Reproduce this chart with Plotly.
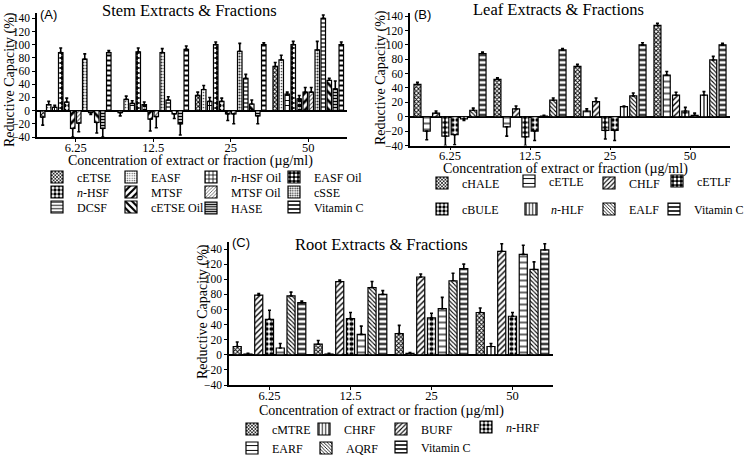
import plotly.graph_objects as go

W, H = 745, 457
concentrations = ["6.25", "12.5", "25", "50"]

# ---------------- Panel A : Stem ----------------
stem_names = ["cETSE", "EASF", "<i>n</i>-HSF Oil", "EASF Oil",
              "<i>n</i>-HSF", "MTSF", "MTSF Oil", "cSSE",
              "DCSF", "cETSE Oil", "HASE", "Vitamin C"]
stem_cETSE = [-10, -3, 23, 67]
stem_EASF = [9, 17, 32, 77]
stem_nHSF_oil = [5, 11, 14, 25]
stem_EASF_oil = [88, 89, 100, 100]
stem_nHSF = [13, 9, 14, 18]
stem_MTSF = [-27, -13, -5, 28]
stem_MTSF_oil = [-19, -9, -5, 28]
stem_cSSE = [78, 88, 90, 92]
stem_DCSF = [-3, 16, 49, 140]
stem_cETSE_oil = [-18, -5, 10, 46]
stem_HASE = [-27, -20, -8, 33]
stem_vitC = [88, 93, 100, 100]
stem_values = [stem_cETSE, stem_EASF, stem_nHSF_oil, stem_EASF_oil, stem_nHSF,
               stem_MTSF, stem_MTSF_oil, stem_cSSE, stem_DCSF, stem_cETSE_oil,
               stem_HASE, stem_vitC]
stem_err = [[12, 5, 5, 6], [5, 5, 6, 7], [3, 4, 6, 3], [7, 6, 4, 5],
            [6, 4, 5, 5], [13, 18, 10, 7], [13, 17, 15, 7], [8, 6, 12, 13],
            [3, 5, 6, 5], [16, 7, 6, 3], [13, 17, 12, 12], [3, 5, 3, 4]]

# ---------------- Panel B : Leaf ----------------
leaf_names = ["cHALE", "cETLE", "CHLF", "cETLF",
              "cBULE", "<i>n</i>-HLF", "EALF", "Vitamin C"]
leaf_cHALE = [45, 52, 70, 127]
leaf_cETLE = [-20, -14, 8, 58]
leaf_CHLF = [5, 11, 21, 30]
leaf_cETLF = [-27, -28, -19, 8]
leaf_cBULE = [-25, -20, -19, 2]
leaf_nHLF = [-3, 1, 14, 30]
leaf_EALF = [9, 23, 29, 79]
leaf_vitC = [88, 93, 100, 100]
leaf_values = [leaf_cHALE, leaf_cETLE, leaf_CHLF, leaf_cETLF,
               leaf_cBULE, leaf_nHLF, leaf_EALF, leaf_vitC]
leaf_err = [[3, 2, 3, 3], [12, 13, 3, 5], [3, 4, 5, 4], [13, 12, 12, 5],
            [14, 13, 14, 3], [2, 1, 1, 5], [3, 3, 4, 5], [2, 2, 3, 2]]

# ---------------- Panel C : Root ----------------
root_names = ["cMTRE", "CHRF", "BURF", "<i>n</i>-HRF",
              "EARF", "AQRF", "Vitamin C"]
root_cMTRE = [11, 14, 28, 56]
root_CHRF = [1, 1, 2, 11]
root_BURF = [79, 97, 103, 137]
root_nHRF = [47, 48, 49, 51]
root_EARF = [9, 27, 61, 133]
root_AQRF = [78, 89, 98, 113]
root_vitC = [69, 80, 114, 139]
root_values = [root_cMTRE, root_CHRF, root_BURF, root_nHRF,
               root_EARF, root_AQRF, root_vitC]
root_err = [[6, 5, 11, 6], [1, 1, 1, 4], [2, 2, 4, 10], [12, 8, 6, 5],
            [6, 11, 15, 12], [5, 8, 10, 10], [2, 5, 6, 8]]

# ---------------- styles ----------------
def pat(shape, size, solidity, fg="black", bg="white"):
    return dict(shape=shape, size=size, solidity=solidity, fgcolor=fg, bgcolor=bg, fillmode="replace")

XHATCH = pat("x", 3, 0.5)
VITC = pat("-", 5, 0.4)
stem_pat = [XHATCH, pat(".", 3, 0.25, "#555"), pat("+", 5, 0.35), pat(".", 5, 0.45, "white", "black"),
            pat(".", 5, 0.55), pat("/", 6, 0.45), pat("/", 3, 0.3, "#444"), pat(".", 3, 0.4, "#333"),
            pat("-", 4, 0.3), pat("\\", 6, 0.45), pat("-", 3, 0.5), VITC]
leaf_pat = [XHATCH, pat("-", 6, 0.2), pat("/", 4, 0.35), pat(".", 5, 0.45, "white", "black"),
            pat(".", 5, 0.55), pat("|", 4, 0.3), pat("\\", 3, 0.35), VITC]
root_pat = [XHATCH, pat("|", 4, 0.3), pat("/", 4, 0.35), pat(".", 5, 0.55),
            pat("-", 6, 0.2), pat("\\", 3, 0.35), VITC]

# legend entry positions (swatch left x, row centre y) in pixels
stem_leg_pos = [(53, 177), (127, 177), (207, 177), (290, 177),
                (53, 192), (127, 192), (207, 192), (290, 192),
                (53, 207), (127, 207), (207, 208), (290, 207)]
leaf_leg_pos = [(438, 183), (525, 181), (605, 183), (673, 181),
                (438, 209), (527, 209), (605, 209), (670, 209)]
root_leg_pos = [(248, 429), (320, 429), (397, 429), (482, 427),
                (248, 448), (322, 448), (397, 447)]

SERIF = "Liberation Serif"
SANS = "Liberation Sans"

def px_x(p):
    return p / W

def px_y(p):
    return 1 - p / H

fig = go.Figure()
legends = {}
counter = [0]

def add_panel(names, values, errs, pats, positions, xa, ya):
    for n, v, e, p, pos in zip(names, values, errs, pats, positions):
        counter[0] += 1
        lname = "legend" if counter[0] == 1 else f"legend{counter[0]}"
        legends[lname] = dict(x=px_x(pos[0] - 16), y=px_y(pos[1]), xanchor="left", yanchor="middle",
                              bgcolor="rgba(0,0,0,0)", borderwidth=0,
                              font=dict(family=SERIF, size=12, color="black"),
                              itemclick=False, itemdoubleclick=False)
        plus = [ee if vv >= 0 else 0 for vv, ee in zip(v, e)]
        minus = [ee if vv < 0 else 0 for vv, ee in zip(v, e)]
        fig.add_trace(go.Bar(
            x=concentrations, y=v, name=n, xaxis=xa, yaxis=ya, legend=lname,
            marker=dict(color="white", pattern=p, line=dict(color="black", width=1.2)),
            error_y=dict(type="data", symmetric=False, array=plus, arrayminus=minus,
                         color="black", thickness=1.6, width=1.5),
        ))

add_panel(stem_names, stem_values, stem_err, stem_pat, stem_leg_pos, "x", "y")
add_panel(leaf_names, leaf_values, leaf_err, leaf_pat, leaf_leg_pos, "x2", "y2")
add_panel(root_names, root_values, root_err, root_pat, root_leg_pos, "x3", "y3")

def xaxis(dom, anchor):
    return dict(domain=[px_x(dom[0]), px_x(dom[1])], type="category", range=[-0.5, 3.5], anchor=anchor,
                showline=True, linecolor="black", linewidth=1.5, ticks="outside", ticklen=3,
                tickcolor="black", tickwidth=1.2, showgrid=False, zeroline=False,
                ticklabelstandoff=-5,
                tickfont=dict(family=SERIF, size=12.5, color="black"), fixedrange=True)

def yaxis(dom, top, anchor):
    return dict(domain=[px_y(dom[1]), px_y(dom[0])], range=[-40, top], anchor=anchor,
                tickvals=list(range(-40, 141, 20)), showline=True, linecolor="black",
                linewidth=1.5, ticks="outside", ticklen=3, tickcolor="black", tickwidth=1.2,
                showgrid=False, zeroline=True, zerolinecolor="black", zerolinewidth=1.5,
                tickfont=dict(family=SERIF, size=11.5, color="black"), fixedrange=True)

ann = []
def text(s, x, y, size, family=SERIF, angle=0):
    ann.append(dict(text=s, x=px_x(x), y=px_y(y), xref="paper", yref="paper",
                    showarrow=False, xanchor="center", yanchor="middle", textangle=angle,
                    font=dict(family=family, size=size, color="black")))

text("Stem Extracts &amp; Fractions", 189, 10, 16.5)
text("Leaf Extracts &amp; Fractions", 558, 9, 16.5)
text("Root Extracts &amp; Fractions", 381, 244, 16.5)
text("(A)", 48, 15, 13, SANS)
text("(B)", 422, 15, 13, SANS)
text("(C)", 241, 243, 13, SANS)
yt = "Reductive Capacity (%)"
text(yt, 10, 80, 14, angle=-90)
text(yt, 381, 78, 14, angle=-90)
text(yt, 203, 312, 14, angle=-90)
xt = "Concentration of extract or fraction (µg/ml)"
text(xt, 190, 161, 14)
text(xt, 565, 169, 14)
text(xt, 381, 411, 14)

fig.update_layout(
    width=W, height=H, margin=dict(l=0, r=0, t=0, b=0, autoexpand=False),
    paper_bgcolor="white", plot_bgcolor="white",
    barmode="group", bargap=0.07, bargroupgap=0.25,
    xaxis=xaxis((37, 347), "y"), yaxis=yaxis((13, 137), 148, "x"),
    xaxis2=xaxis((410, 730), "y2"), yaxis2=yaxis((12.5, 145.5), 145, "x2"),
    xaxis3=xaxis((229, 553), "y3"), yaxis3=yaxis((241.5, 385), 150, "x3"),
    annotations=ann, showlegend=True,
    **legends,
)

fig.write_html("out.html", config={"displayModeBar": False},
               post_script="document.body.style.margin='0';document.body.style.overflow='hidden';")
